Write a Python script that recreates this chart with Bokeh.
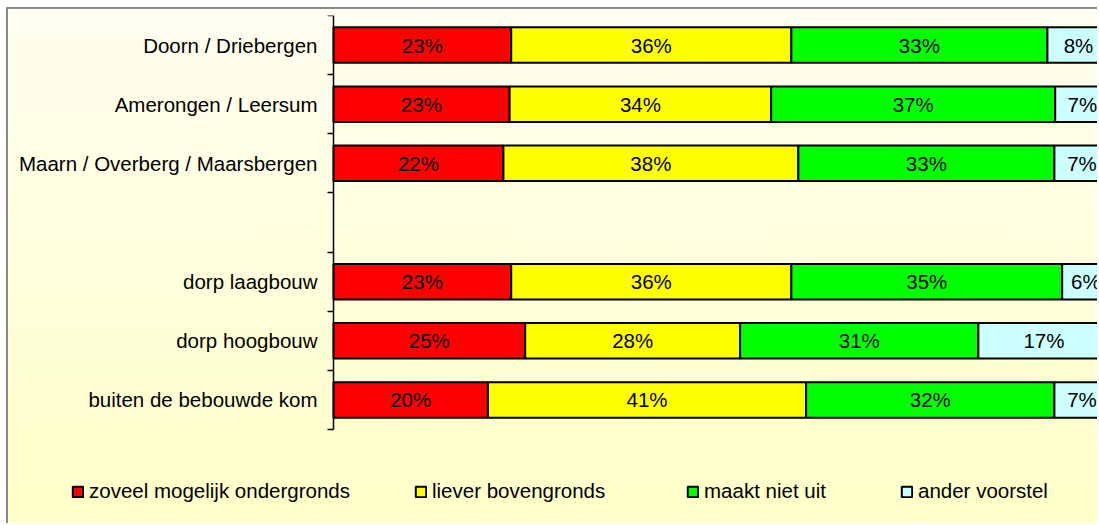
from bokeh.plotting import figure
from bokeh.models import ColumnDataSource, Range1d, FixedTicker, Legend, LegendItem
from bokeh.core.properties import value
from bokeh.embed import file_html
from bokeh.resources import INLINE

# ---- data (percentages) ----
categories = ["Doorn / Driebergen", "Amerongen / Leersum", "Maarn / Overberg / Maarsbergen",
              "dorp laagbouw", "dorp hoogbouw", "buiten de bebouwde kom"]
# rows grouped: first three, then (after one empty slot) the last three
slots = [0, 1, 2, 4, 5, 6]

series_names = ["zoveel mogelijk ondergronds", "liever bovengronds", "maakt niet uit", "ander voorstel"]
ondergronds = [22.9, 22.7, 21.9, 22.9, 24.7, 19.9]
bovengronds = [36.1, 33.7, 38.0, 36.1, 27.7, 41.0]
maakt_niet_uit = [33.0, 36.6, 33.0, 34.9, 30.7, 32.0]
ander_voorstel = [8.0, 7.0, 7.1, 6.1, 16.9, 7.1]
series = [ondergronds, bovengronds, maakt_niet_uit, ander_voorstel]
colors = ["#FF0000", "#FFFF00", "#00FF00", "#CCFFFF"]

FONT = "Liberation Sans"
FS = "20.5px"
n_slots = 7
ys = [n_slots - 1 - s for s in slots]

# ---- geometry (pixels) ----
W, H = 1091, 516          # canvas size (page offset 8,9 via margin + border)
AXIS_X = 325              # y-axis position inside the canvas
TOP = 6                   # plot area top inside the canvas
ROWS_H = 414              # height of the 7 row slots
PX_PER_PCT = 7.76
px_per_row = ROWS_H / n_slots

x_start = -AXIS_X / PX_PER_PCT
x_end = (W - AXIS_X) / PX_PER_PCT
y_top = n_slots - 0.5
y_bottom = y_top - (H - TOP) / px_per_row

p = figure(width=W, height=H, output_backend="svg", toolbar_location=None,
           x_range=Range1d(x_start, x_end), y_range=Range1d(y_bottom, y_top))
p.min_border_left = 0
p.min_border_right = 0
p.min_border_top = TOP
p.min_border_bottom = 0
p.background_fill_alpha = 0
p.border_fill_alpha = 0
p.outline_line_color = None
p.xgrid.visible = False
p.ygrid.visible = False
p.xaxis.visible = False
p.styles = {"background": "linear-gradient(to bottom, #FFFEF0 0%, #FFFFC8 100%)",
            "border-left": "2px solid #8a8a8a", "border-top": "2px solid #8a8a8a",
            "margin-left": "6px", "margin-top": "7px"}

yax = p.yaxis[0]
yax.fixed_location = 0
yax.bounds = (-0.5, n_slots - 0.5)
yax.ticker = FixedTicker(ticks=ys, minor_ticks=[i - 0.5 for i in range(n_slots + 1)])
yax.major_label_overrides = {y: c for y, c in zip(ys, categories)}
yax.major_tick_out = 0
yax.major_tick_in = 0
yax.minor_tick_out = 6
yax.minor_tick_in = 0
yax.minor_tick_line_color = "black"
yax.minor_tick_line_width = 1.5
yax.axis_line_color = "black"
yax.axis_line_width = 1.5
yax.major_label_standoff = 10
yax.major_label_text_font = FONT
yax.major_label_text_font_size = FS
yax.major_label_text_color = "black"

renderers = []
left = [0.0] * len(categories)
for name, vals, col in zip(series_names, series, colors):
    right = [l + v for l, v in zip(left, vals)]
    src = ColumnDataSource(dict(
        y=ys, left=left, right=right,
        mid=[(l + r) / 2 for l, r in zip(left, right)],
        lab=[f"{round(v)}%" for v in vals]))
    r = p.hbar(y="y", left="left", right="right", height=0.6, source=src,
               fill_color=col, line_color="black", line_width=2)
    p.text(x="mid", y="y", text="lab", source=src, text_align="center",
           text_baseline="middle", text_font=value(FONT), text_font_size=FS,
           text_color="black")
    renderers.append(r)
    left = right

# ---- legend: one entry per series, placed along the bottom ----
legend_x = [63, 406, 678, 892]
for name, r, lx in zip(series_names, renderers, legend_x):
    leg = Legend(items=[LegendItem(label=name, renderers=[r], index=0)], location=(lx, 22),
                 orientation="horizontal", padding=0, margin=0, label_standoff=5,
                 glyph_width=13, glyph_height=13,
                 label_text_font=FONT, label_text_font_size=FS, label_text_color="black",
                 border_line_color=None, background_fill_alpha=0)
    p.add_layout(leg, "center")

open("out.html", "w").write(file_html(p, INLINE))
